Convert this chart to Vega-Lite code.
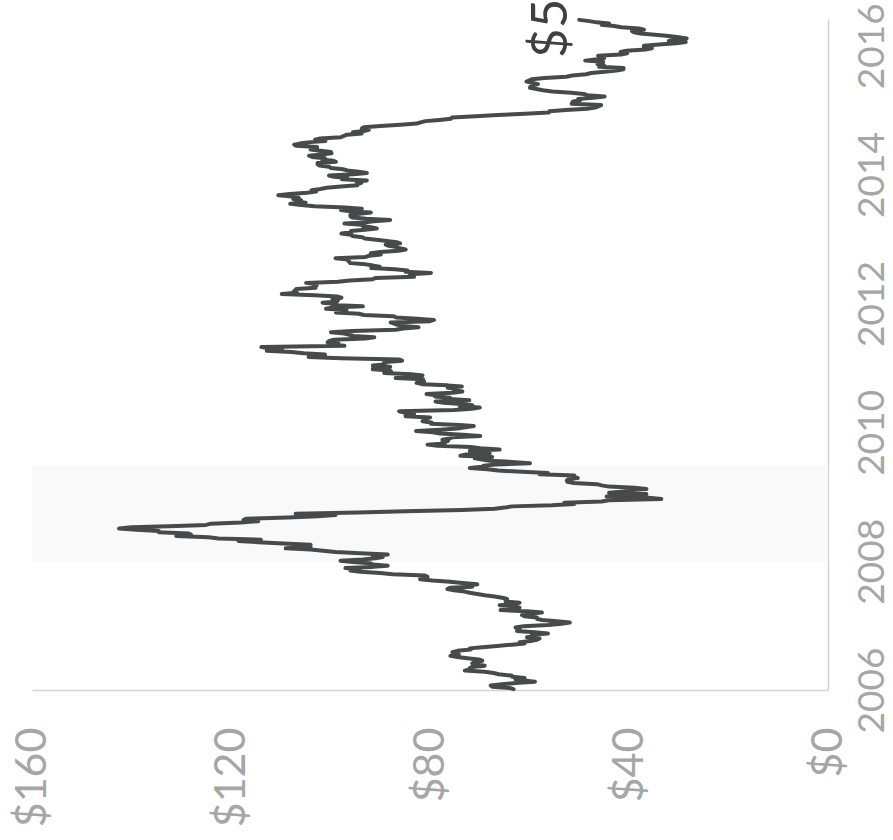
{
"$schema": "https://vega.github.io/schema/vega-lite/v6.json",
"width": 796, "height": 671,
"autosize": {"type": "none"},
"padding": {"left": 32, "top": 19, "right": 65, "bottom": 150},
"background": "white",
"config": {"view": {"stroke": null}, "font": "Lato"},
"datasets": {
"rec": [{"d": "2008-01-01", "d2": "2009-06-30", "p": 160, "p2": 0}],
"lbl": [{"d": "2016-05-27", "p": 50, "t": "$50"}],
"oil": [
{"d":"2006-01-06","p":63.2},{"d":"2006-01-13","p":64.0},{"d":"2006-01-20","p":67.5},{"d":"2006-01-27","p":67.8},
{"d":"2006-02-03","p":65.5},{"d":"2006-02-10","p":62.8},{"d":"2006-02-17","p":58.9},{"d":"2006-02-24","p":61.0},
{"d":"2006-03-03","p":62.8},{"d":"2006-03-10","p":61.0},{"d":"2006-03-17","p":63.5},{"d":"2006-03-24","p":63.6},{"d":"2006-03-31","p":66.2},
{"d":"2006-04-07","p":67.2},{"d":"2006-04-14","p":69.0},{"d":"2006-04-21","p":73.0},{"d":"2006-04-28","p":71.8},
{"d":"2006-05-05","p":72.0},{"d":"2006-05-12","p":71.5},{"d":"2006-05-19","p":69.0},{"d":"2006-05-26","p":70.5},
{"d":"2006-06-02","p":71.5},{"d":"2006-06-09","p":71.0},{"d":"2006-06-16","p":69.5},{"d":"2006-06-23","p":70.2},{"d":"2006-06-30","p":72.5},
{"d":"2006-07-07","p":74.5},{"d":"2006-07-14","p":75.9},{"d":"2006-07-21","p":74.2},{"d":"2006-07-28","p":74.5},
{"d":"2006-08-04","p":75.5},{"d":"2006-08-11","p":74.5},{"d":"2006-08-18","p":71.8},{"d":"2006-08-25","p":72.0},
{"d":"2006-09-01","p":69.5},{"d":"2006-09-08","p":66.5},{"d":"2006-09-15","p":63.5},{"d":"2006-09-22","p":61.0},{"d":"2006-09-29","p":62.0},
{"d":"2006-10-06","p":59.8},{"d":"2006-10-13","p":58.5},{"d":"2006-10-20","p":58.0},{"d":"2006-10-27","p":60.5},
{"d":"2006-11-03","p":58.8},{"d":"2006-11-10","p":59.5},{"d":"2006-11-17","p":56.3},{"d":"2006-11-24","p":58.9},
{"d":"2006-12-01","p":62.5},{"d":"2006-12-08","p":61.9},{"d":"2006-12-15","p":62.5},{"d":"2006-12-22","p":62.8},{"d":"2006-12-29","p":61.2},
{"d":"2007-01-05","p":56.3},{"d":"2007-01-12","p":53.5},{"d":"2007-01-19","p":51.9},{"d":"2007-01-26","p":54.5},
{"d":"2007-02-02","p":57.5},{"d":"2007-02-09","p":58.5},{"d":"2007-02-16","p":58.5},{"d":"2007-02-23","p":61.0},
{"d":"2007-03-02","p":61.5},{"d":"2007-03-09","p":60.2},{"d":"2007-03-16","p":57.5},{"d":"2007-03-23","p":60.5},{"d":"2007-03-30","p":65.8},
{"d":"2007-04-06","p":64.2},{"d":"2007-04-13","p":62.0},{"d":"2007-04-20","p":63.0},{"d":"2007-04-27","p":66.0},
{"d":"2007-05-04","p":63.0},{"d":"2007-05-11","p":62.0},{"d":"2007-05-18","p":64.8},{"d":"2007-05-25","p":64.5},
{"d":"2007-06-01","p":64.5},{"d":"2007-06-08","p":65.5},{"d":"2007-06-15","p":67.0},{"d":"2007-06-22","p":69.0},{"d":"2007-06-29","p":70.5},
{"d":"2007-07-06","p":72.0},{"d":"2007-07-13","p":73.0},{"d":"2007-07-20","p":75.2},{"d":"2007-07-27","p":76.5},
{"d":"2007-08-03","p":76.0},{"d":"2007-08-10","p":71.5},{"d":"2007-08-17","p":71.8},{"d":"2007-08-24","p":70.5},{"d":"2007-08-31","p":73.5},
{"d":"2007-09-07","p":76.0},{"d":"2007-09-14","p":79.5},{"d":"2007-09-21","p":82.0},{"d":"2007-09-28","p":81.6},
{"d":"2007-10-05","p":80.5},{"d":"2007-10-12","p":81.0},{"d":"2007-10-19","p":87.5},{"d":"2007-10-26","p":90.0},
{"d":"2007-11-02","p":94.0},{"d":"2007-11-09","p":96.0},{"d":"2007-11-16","p":94.0},{"d":"2007-11-23","p":97.0},{"d":"2007-11-30","p":91.5},
{"d":"2007-12-07","p":88.5},{"d":"2007-12-14","p":91.5},{"d":"2007-12-21","p":92.0},{"d":"2007-12-28","p":95.5},
{"d":"2008-01-04","p":98.0},{"d":"2008-01-11","p":93.5},{"d":"2008-01-18","p":91.0},{"d":"2008-01-25","p":89.5},
{"d":"2008-02-01","p":91.5},{"d":"2008-02-08","p":88.5},{"d":"2008-02-15","p":94.0},{"d":"2008-02-22","p":99.0},{"d":"2008-02-29","p":101.5},
{"d":"2008-03-07","p":104.0},{"d":"2008-03-14","p":109.0},{"d":"2008-03-21","p":104.0},{"d":"2008-03-28","p":105.5},
{"d":"2008-04-04","p":104.0},{"d":"2008-04-11","p":109.5},{"d":"2008-04-18","p":114.5},{"d":"2008-04-25","p":118.5},
{"d":"2008-05-02","p":114.0},{"d":"2008-05-09","p":122.5},{"d":"2008-05-16","p":124.5},{"d":"2008-05-23","p":131.0},{"d":"2008-05-30","p":128.0},
{"d":"2008-06-06","p":128.5},{"d":"2008-06-13","p":134.5},{"d":"2008-06-20","p":134.5},{"d":"2008-06-27","p":139.0},
{"d":"2008-07-04","p":142.5},{"d":"2008-07-11","p":140.0},{"d":"2008-07-18","p":132.5},{"d":"2008-07-25","p":125.0},
{"d":"2008-08-01","p":124.0},{"d":"2008-08-08","p":118.0},{"d":"2008-08-15","p":114.5},{"d":"2008-08-22","p":117.5},{"d":"2008-08-29","p":117.0},
{"d":"2008-09-05","p":108.5},{"d":"2008-09-12","p":102.5},{"d":"2008-09-19","p":99.0},{"d":"2008-09-26","p":107.0},
{"d":"2008-10-03","p":94.5},{"d":"2008-10-10","p":85.0},{"d":"2008-10-17","p":73.5},{"d":"2008-10-24","p":67.0},{"d":"2008-10-31","p":65.0},
{"d":"2008-11-07","p":63.5},{"d":"2008-11-14","p":55.5},{"d":"2008-11-21","p":51.0},{"d":"2008-11-28","p":53.0},
{"d":"2008-12-05","p":45.5},{"d":"2008-12-12","p":44.0},{"d":"2008-12-19","p":33.5},{"d":"2008-12-26","p":36.0},
{"d":"2009-01-02","p":44.5},{"d":"2009-01-09","p":41.0},{"d":"2009-01-16","p":36.5},{"d":"2009-01-23","p":44.0},{"d":"2009-01-30","p":41.0},
{"d":"2009-02-06","p":40.0},{"d":"2009-02-13","p":36.5},{"d":"2009-02-20","p":38.9},{"d":"2009-02-27","p":44.0},
{"d":"2009-03-06","p":45.5},{"d":"2009-03-13","p":46.5},{"d":"2009-03-20","p":51.1},{"d":"2009-03-27","p":52.4},
{"d":"2009-04-03","p":52.5},{"d":"2009-04-10","p":52.2},{"d":"2009-04-17","p":50.3},{"d":"2009-04-24","p":51.5},
{"d":"2009-05-01","p":51.0},{"d":"2009-05-08","p":58.0},{"d":"2009-05-15","p":56.3},{"d":"2009-05-22","p":61.5},{"d":"2009-05-29","p":66.3},
{"d":"2009-06-05","p":68.4},{"d":"2009-06-12","p":72.0},{"d":"2009-06-19","p":69.5},{"d":"2009-06-26","p":69.2},
{"d":"2009-07-03","p":66.7},{"d":"2009-07-10","p":59.9},{"d":"2009-07-17","p":63.5},{"d":"2009-07-24","p":68.0},{"d":"2009-07-31","p":69.5},
{"d":"2009-08-07","p":71.0},{"d":"2009-08-14","p":67.5},{"d":"2009-08-21","p":73.9},{"d":"2009-08-28","p":72.7},
{"d":"2009-09-04","p":68.0},{"d":"2009-09-11","p":69.3},{"d":"2009-09-18","p":72.0},{"d":"2009-09-25","p":66.0},
{"d":"2009-10-02","p":69.9},{"d":"2009-10-09","p":71.8},{"d":"2009-10-16","p":78.5},{"d":"2009-10-23","p":80.5},{"d":"2009-10-30","p":77.0},
{"d":"2009-11-06","p":77.5},{"d":"2009-11-13","p":76.4},{"d":"2009-11-20","p":77.5},{"d":"2009-11-27","p":76.0},
{"d":"2009-12-04","p":75.5},{"d":"2009-12-11","p":69.9},{"d":"2009-12-18","p":73.4},{"d":"2009-12-25","p":78.0},
{"d":"2010-01-01","p":79.4},{"d":"2010-01-08","p":82.8},{"d":"2010-01-15","p":78.0},{"d":"2010-01-22","p":74.5},{"d":"2010-01-29","p":72.9},
{"d":"2010-02-05","p":71.2},{"d":"2010-02-12","p":74.1},{"d":"2010-02-19","p":79.8},{"d":"2010-02-26","p":79.7},
{"d":"2010-03-05","p":81.5},{"d":"2010-03-12","p":81.2},{"d":"2010-03-19","p":80.7},{"d":"2010-03-26","p":80.0},
{"d":"2010-04-02","p":84.9},{"d":"2010-04-09","p":84.9},{"d":"2010-04-16","p":83.2},{"d":"2010-04-23","p":85.1},{"d":"2010-04-30","p":86.2},
{"d":"2010-05-07","p":75.1},{"d":"2010-05-14","p":71.6},{"d":"2010-05-21","p":70.0},{"d":"2010-05-28","p":74.0},
{"d":"2010-06-04","p":71.5},{"d":"2010-06-11","p":73.8},{"d":"2010-06-18","p":77.2},{"d":"2010-06-25","p":78.9},
{"d":"2010-07-02","p":72.1},{"d":"2010-07-09","p":76.1},{"d":"2010-07-16","p":76.0},{"d":"2010-07-23","p":79.0},{"d":"2010-07-30","p":78.9},
{"d":"2010-08-06","p":80.7},{"d":"2010-08-13","p":75.4},{"d":"2010-08-20","p":73.5},{"d":"2010-08-27","p":75.2},
{"d":"2010-09-03","p":74.6},{"d":"2010-09-10","p":76.4},{"d":"2010-09-17","p":73.6},{"d":"2010-09-24","p":76.5},
{"d":"2010-10-01","p":81.6},{"d":"2010-10-08","p":82.7},{"d":"2010-10-15","p":81.2},{"d":"2010-10-22","p":81.7},{"d":"2010-10-29","p":81.4},
{"d":"2010-11-05","p":86.9},{"d":"2010-11-12","p":84.9},{"d":"2010-11-19","p":81.5},{"d":"2010-11-26","p":83.8},
{"d":"2010-12-03","p":89.2},{"d":"2010-12-10","p":87.8},{"d":"2010-12-17","p":88.0},{"d":"2010-12-24","p":91.5},{"d":"2010-12-31","p":91.4},
{"d":"2011-01-07","p":88.0},{"d":"2011-01-14","p":91.5},{"d":"2011-01-21","p":89.1},{"d":"2011-01-28","p":89.3},
{"d":"2011-02-04","p":89.0},{"d":"2011-02-11","p":85.6},{"d":"2011-02-18","p":86.2},{"d":"2011-02-25","p":97.9},
{"d":"2011-03-04","p":104.4},{"d":"2011-03-11","p":101.2},{"d":"2011-03-18","p":101.1},{"d":"2011-03-25","p":105.4},
{"d":"2011-04-01","p":107.9},{"d":"2011-04-08","p":112.8},{"d":"2011-04-15","p":109.7},{"d":"2011-04-22","p":112.3},{"d":"2011-04-29","p":113.9},
{"d":"2011-05-06","p":97.2},{"d":"2011-05-13","p":99.7},{"d":"2011-05-20","p":98.4},{"d":"2011-05-27","p":100.6},
{"d":"2011-06-03","p":100.2},{"d":"2011-06-10","p":99.3},{"d":"2011-06-17","p":93.0},{"d":"2011-06-24","p":91.2},
{"d":"2011-07-01","p":95.4},{"d":"2011-07-08","p":96.2},{"d":"2011-07-15","p":97.2},{"d":"2011-07-22","p":99.9},{"d":"2011-07-29","p":95.7},
{"d":"2011-08-05","p":86.9},{"d":"2011-08-12","p":85.4},{"d":"2011-08-19","p":82.3},{"d":"2011-08-26","p":85.4},
{"d":"2011-09-02","p":86.5},{"d":"2011-09-09","p":87.2},{"d":"2011-09-16","p":87.9},{"d":"2011-09-23","p":80.0},{"d":"2011-09-30","p":79.2},
{"d":"2011-10-07","p":82.6},{"d":"2011-10-14","p":86.8},{"d":"2011-10-21","p":87.4},{"d":"2011-10-28","p":93.3},
{"d":"2011-11-04","p":94.3},{"d":"2011-11-11","p":98.9},{"d":"2011-11-18","p":97.4},{"d":"2011-11-25","p":96.8},
{"d":"2011-12-02","p":100.9},{"d":"2011-12-09","p":99.4},{"d":"2011-12-16","p":93.5},{"d":"2011-12-23","p":99.7},{"d":"2011-12-30","p":98.8},
{"d":"2012-01-06","p":101.6},{"d":"2012-01-13","p":98.7},{"d":"2012-01-20","p":98.5},{"d":"2012-01-27","p":99.6},
{"d":"2012-02-03","p":97.8},{"d":"2012-02-10","p":98.7},{"d":"2012-02-17","p":103.2},{"d":"2012-02-24","p":109.8},
{"d":"2012-03-02","p":106.7},{"d":"2012-03-09","p":107.4},{"d":"2012-03-16","p":107.1},{"d":"2012-03-23","p":106.9},{"d":"2012-03-30","p":103.0},
{"d":"2012-04-06","p":103.3},{"d":"2012-04-13","p":102.8},{"d":"2012-04-20","p":103.1},{"d":"2012-04-27","p":104.9},
{"d":"2012-05-04","p":98.5},{"d":"2012-05-11","p":96.1},{"d":"2012-05-18","p":91.5},{"d":"2012-05-25","p":90.9},
{"d":"2012-06-01","p":83.2},{"d":"2012-06-08","p":84.1},{"d":"2012-06-15","p":84.0},{"d":"2012-06-22","p":79.8},{"d":"2012-06-29","p":84.9},
{"d":"2012-07-06","p":84.5},{"d":"2012-07-13","p":87.1},{"d":"2012-07-20","p":91.8},{"d":"2012-07-27","p":90.1},
{"d":"2012-08-03","p":91.4},{"d":"2012-08-10","p":92.9},{"d":"2012-08-17","p":96.0},{"d":"2012-08-24","p":96.2},{"d":"2012-08-31","p":96.5},
{"d":"2012-09-07","p":96.4},{"d":"2012-09-14","p":99.0},{"d":"2012-09-21","p":92.9},{"d":"2012-09-28","p":92.2},
{"d":"2012-10-05","p":89.9},{"d":"2012-10-12","p":91.9},{"d":"2012-10-19","p":90.0},{"d":"2012-10-26","p":86.3},
{"d":"2012-11-02","p":84.9},{"d":"2012-11-09","p":86.1},{"d":"2012-11-16","p":86.7},{"d":"2012-11-23","p":88.3},{"d":"2012-11-30","p":88.9},
{"d":"2012-12-07","p":86.0},{"d":"2012-12-14","p":86.7},{"d":"2012-12-21","p":88.7},{"d":"2012-12-28","p":90.8},
{"d":"2013-01-04","p":93.1},{"d":"2013-01-11","p":93.6},{"d":"2013-01-18","p":95.6},{"d":"2013-01-25","p":95.9},
{"d":"2013-02-01","p":97.8},{"d":"2013-02-08","p":95.7},{"d":"2013-02-15","p":95.9},{"d":"2013-02-22","p":93.1},
{"d":"2013-03-01","p":90.7},{"d":"2013-03-08","p":91.9},{"d":"2013-03-15","p":93.5},{"d":"2013-03-22","p":93.7},{"d":"2013-03-29","p":97.2},
{"d":"2013-04-05","p":93.0},{"d":"2013-04-12","p":91.3},{"d":"2013-04-19","p":88.0},{"d":"2013-04-26","p":92.8},
{"d":"2013-05-03","p":95.6},{"d":"2013-05-10","p":96.0},{"d":"2013-05-17","p":96.0},{"d":"2013-05-24","p":94.2},{"d":"2013-05-31","p":91.9},
{"d":"2013-06-07","p":96.0},{"d":"2013-06-14","p":97.9},{"d":"2013-06-21","p":93.7},{"d":"2013-06-28","p":97.1},
{"d":"2013-07-05","p":103.2},{"d":"2013-07-12","p":105.9},{"d":"2013-07-19","p":108.1},{"d":"2013-07-26","p":105.0},
{"d":"2013-08-02","p":106.9},{"d":"2013-08-09","p":105.9},{"d":"2013-08-16","p":107.5},{"d":"2013-08-23","p":106.4},{"d":"2013-08-30","p":107.6},
{"d":"2013-09-06","p":110.5},{"d":"2013-09-13","p":108.2},{"d":"2013-09-20","p":104.7},{"d":"2013-09-27","p":102.9},
{"d":"2013-10-04","p":103.8},{"d":"2013-10-11","p":102.0},{"d":"2013-10-18","p":100.8},{"d":"2013-10-25","p":97.9},
{"d":"2013-11-01","p":94.6},{"d":"2013-11-08","p":94.6},{"d":"2013-11-15","p":93.8},{"d":"2013-11-22","p":94.8},{"d":"2013-11-29","p":92.7},
{"d":"2013-12-06","p":97.7},{"d":"2013-12-13","p":96.6},{"d":"2013-12-20","p":99.3},{"d":"2013-12-27","p":100.3},
{"d":"2014-01-03","p":95.4},{"d":"2014-01-10","p":92.7},{"d":"2014-01-17","p":94.4},{"d":"2014-01-24","p":96.6},{"d":"2014-01-31","p":97.5},
{"d":"2014-02-07","p":99.9},{"d":"2014-02-14","p":100.3},{"d":"2014-02-21","p":102.2},{"d":"2014-02-28","p":102.6},
{"d":"2014-03-07","p":102.6},{"d":"2014-03-14","p":98.9},{"d":"2014-03-21","p":99.5},{"d":"2014-03-28","p":101.7},
{"d":"2014-04-04","p":101.1},{"d":"2014-04-11","p":103.7},{"d":"2014-04-18","p":104.3},{"d":"2014-04-25","p":101.9},
{"d":"2014-05-02","p":99.8},{"d":"2014-05-09","p":99.9},{"d":"2014-05-16","p":102.0},{"d":"2014-05-23","p":104.0},{"d":"2014-05-30","p":102.7},
{"d":"2014-06-06","p":102.7},{"d":"2014-06-13","p":106.9},{"d":"2014-06-20","p":107.3},{"d":"2014-06-27","p":106.0},
{"d":"2014-07-04","p":104.0},{"d":"2014-07-11","p":101.0},{"d":"2014-07-18","p":103.1},{"d":"2014-07-25","p":102.1},
{"d":"2014-08-01","p":97.9},{"d":"2014-08-08","p":97.3},{"d":"2014-08-15","p":96.7},{"d":"2014-08-22","p":93.7},{"d":"2014-08-29","p":95.5},
{"d":"2014-09-05","p":93.3},{"d":"2014-09-12","p":92.3},{"d":"2014-09-19","p":93.7},{"d":"2014-09-26","p":93.3},
{"d":"2014-10-03","p":90.0},{"d":"2014-10-10","p":85.9},{"d":"2014-10-17","p":82.7},{"d":"2014-10-24","p":81.9},{"d":"2014-10-31","p":80.9},
{"d":"2014-11-07","p":78.1},{"d":"2014-11-14","p":75.8},{"d":"2014-11-21","p":75.6},{"d":"2014-11-28","p":70.8},
{"d":"2014-12-05","p":66.4},{"d":"2014-12-12","p":60.9},{"d":"2014-12-19","p":56.1},{"d":"2014-12-26","p":56.0},
{"d":"2015-01-02","p":52.7},{"d":"2015-01-09","p":48.4},{"d":"2015-01-16","p":46.8},{"d":"2015-01-23","p":46.2},{"d":"2015-01-30","p":45.6},
{"d":"2015-02-06","p":51.5},{"d":"2015-02-13","p":51.4},{"d":"2015-02-20","p":51.2},{"d":"2015-02-27","p":49.8},
{"d":"2015-03-06","p":50.2},{"d":"2015-03-13","p":47.2},{"d":"2015-03-20","p":44.9},{"d":"2015-03-27","p":48.4},
{"d":"2015-04-03","p":49.1},{"d":"2015-04-10","p":51.6},{"d":"2015-04-17","p":55.4},{"d":"2015-04-24","p":57.3},
{"d":"2015-05-01","p":58.6},{"d":"2015-05-08","p":59.9},{"d":"2015-05-15","p":59.8},{"d":"2015-05-22","p":59.3},{"d":"2015-05-29","p":58.3},
{"d":"2015-06-05","p":59.3},{"d":"2015-06-12","p":60.6},{"d":"2015-06-19","p":60.0},{"d":"2015-06-26","p":59.5},
{"d":"2015-07-03","p":57.0},{"d":"2015-07-10","p":52.6},{"d":"2015-07-17","p":51.4},{"d":"2015-07-24","p":48.6},{"d":"2015-07-31","p":47.6},
{"d":"2015-08-07","p":44.9},{"d":"2015-08-14","p":42.5},{"d":"2015-08-21","p":41.1},{"d":"2015-08-28","p":41.1},
{"d":"2015-09-04","p":46.0},{"d":"2015-09-11","p":45.0},{"d":"2015-09-18","p":46.3},{"d":"2015-09-25","p":45.3},
{"d":"2015-10-02","p":45.2},{"d":"2015-10-09","p":48.8},{"d":"2015-10-16","p":46.8},{"d":"2015-10-23","p":45.0},{"d":"2015-10-30","p":45.6},
{"d":"2015-11-06","p":46.2},{"d":"2015-11-13","p":41.6},{"d":"2015-11-20","p":40.4},{"d":"2015-11-27","p":41.7},
{"d":"2015-12-04","p":40.5},{"d":"2015-12-11","p":36.7},{"d":"2015-12-18","p":35.4},{"d":"2015-12-25","p":37.0},
{"d":"2016-01-01","p":37.0},{"d":"2016-01-08","p":34.0},{"d":"2016-01-15","p":30.5},{"d":"2016-01-22","p":28.6},{"d":"2016-01-29","p":32.0},
{"d":"2016-02-05","p":31.0},{"d":"2016-02-12","p":28.4},{"d":"2016-02-19","p":30.0},{"d":"2016-02-26","p":32.0},
{"d":"2016-03-04","p":34.8},{"d":"2016-03-11","p":37.7},{"d":"2016-03-18","p":39.0},{"d":"2016-03-25","p":39.4},
{"d":"2016-04-01","p":37.0},{"d":"2016-04-08","p":38.0},{"d":"2016-04-15","p":41.5},{"d":"2016-04-22","p":43.0},{"d":"2016-04-29","p":45.5},
{"d":"2016-05-06","p":44.0},{"d":"2016-05-13","p":46.5},{"d":"2016-05-20","p":48.0},{"d":"2016-05-27","p":50.0}
]
},
"encoding": {
"y": {"field": "d", "type": "temporal",
 "scale": {"type": "utc", "domain": [{"year": 2006, "month": 1, "date": 1, "utc": true}, {"year": 2016, "month": 6, "date": 1, "utc": true}]},
 "axis": {"orient": "right", "title": null, "format": "%Y", "grid": false, "ticks": false,
  "values": [{"year": 2006, "utc": true}, {"year": 2008, "utc": true}, {"year": 2010, "utc": true}, {"year": 2012, "utc": true}, {"year": 2014, "utc": true}, {"year": 2016, "utc": true}],
  "labelAngle": 270, "labelAlign": "center", "labelBaseline": "top", "labelPadding": 26,
  "labelFontSize": 37, "labelColor": "#a6a6a6", "labelFont": "Lato", "labelFlush": false, "labelOverlap": false,
  "domainColor": "#d4d4d4", "domainWidth": 1.5}},
"x": {"field": "p", "type": "quantitative",
 "scale": {"domain": [0, 160], "reverse": true, "nice": false, "zero": true},
 "axis": {"orient": "bottom", "title": null, "values": [0, 40, 80, 120, 160], "format": "$,.0f", "grid": false, "ticks": false,
  "labelAngle": 270, "labelAlign": "right", "labelBaseline": "middle", "labelPadding": 37,
  "labelFontSize": 43, "labelColor": "#a6a6a6", "labelFont": "Lato", "labelFlush": false, "labelOverlap": false,
  "domainColor": "#d4d4d4", "domainWidth": 1.5}}
},
"layer": [
{"data": {"name": "rec"}, "mark": {"type": "rect", "color": "#f9f9f9"},
 "encoding": {"y2": {"field": "d2"}, "x2": {"field": "p2"}}},
{"data": {"name": "oil"}, "mark": {"type": "line", "color": "#48494b", "strokeWidth": 4, "strokeJoin": "round", "strokeCap": "round"},
 "encoding": {"order": {"field": "d", "type": "temporal"}}},
{"data": {"name": "lbl"}, "mark": {"type": "text", "angle": 270, "align": "left", "baseline": "alphabetic", "dx": -38, "dy": -12, "fontSize": 51, "color": "#404040", "font": "Lato"},
 "encoding": {"text": {"field": "t"}}}
]
}
